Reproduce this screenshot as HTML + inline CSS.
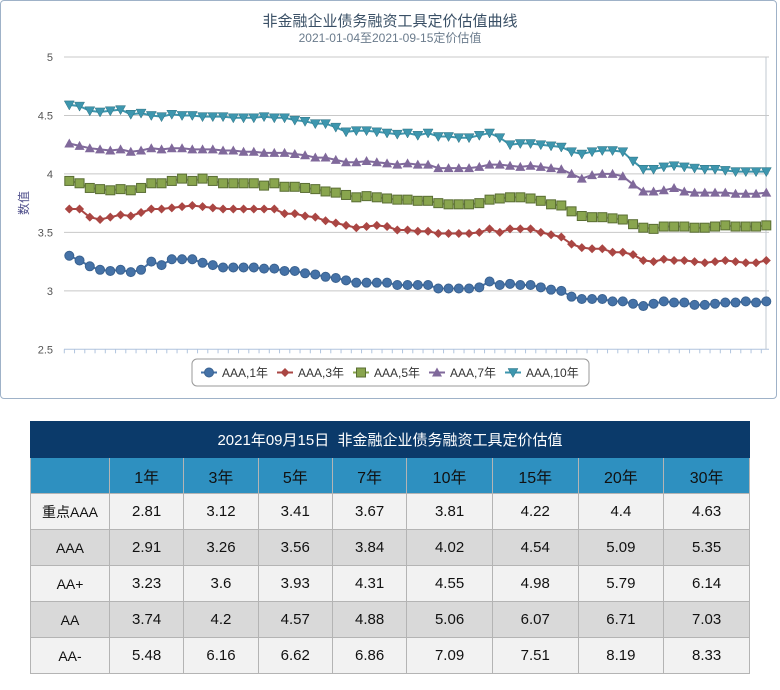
<!DOCTYPE html>
<html><head><meta charset="utf-8">
<style>
body{margin:0;width:780px;height:690px;background:#fff;font-family:"Liberation Sans","Noto Sans CJK SC",sans-serif;overflow:hidden;position:relative}
#chart{position:absolute;left:0;top:0;width:777px;height:399px;border:1px solid #9fb2c8;border-radius:4px;box-sizing:border-box}
table{position:absolute;left:30px;top:421px;border-collapse:collapse;width:720px;font-family:"Liberation Sans","Noto Sans CJK SC",sans-serif}
td,th{border:1px solid #b4b4b4;text-align:center;font-weight:normal;font-size:15px;color:#111;padding:0}
.title td{background:#0b3a6a;color:#fff;height:35px;font-size:15px;border-color:#0b3a6a}
.hdr td{background:#2e90c0;height:35px;font-size:16px;color:#111}
.r1 td{background:#f2f2f2;height:35px}.r2 td{background:#d9d9d9;height:35px}
td.lab{font-size:14px;width:78px}
</style></head><body>
<div id="chart">
<svg id="svg" width="777" height="399"></svg>
</div>
<table>
<tr class="title"><td colspan="9">2021年09月15日&nbsp; 非金融企业债务融资工具定价估值</td></tr>
<tr class="hdr"><td></td><td>1年</td><td>3年</td><td>5年</td><td>7年</td><td>10年</td><td>15年</td><td>20年</td><td>30年</td></tr>
<tr class="r1"><td class="lab">重点AAA</td><td>2.81</td><td>3.12</td><td>3.41</td><td>3.67</td><td>3.81</td><td>4.22</td><td>4.4</td><td>4.63</td></tr>
<tr class="r2"><td class="lab">AAA</td><td>2.91</td><td>3.26</td><td>3.56</td><td>3.84</td><td>4.02</td><td>4.54</td><td>5.09</td><td>5.35</td></tr>
<tr class="r1"><td class="lab">AA+</td><td>3.23</td><td>3.6</td><td>3.93</td><td>4.31</td><td>4.55</td><td>4.98</td><td>5.79</td><td>6.14</td></tr>
<tr class="r2"><td class="lab">AA</td><td>3.74</td><td>4.2</td><td>4.57</td><td>4.88</td><td>5.06</td><td>6.07</td><td>6.71</td><td>7.03</td></tr>
<tr class="r1"><td class="lab">AA-</td><td>5.48</td><td>6.16</td><td>6.62</td><td>6.86</td><td>7.09</td><td>7.51</td><td>8.19</td><td>8.33</td></tr>
</table>
<script>
const yTicks=["2.5","3","3.5","4","4.5","5"];
const seriesNames=["AAA,1年","AAA,3年","AAA,5年","AAA,7年","AAA,10年"];
const s1=[3.30,3.26,3.21,3.18,3.17,3.18,3.16,3.18,3.25,3.22,3.27,3.27,3.27,3.24,3.22,3.20,3.20,3.20,3.20,3.19,3.19,3.17,3.17,3.15,3.14,3.12,3.11,3.09,3.07,3.07,3.07,3.07,3.05,
3.05,3.05,3.05,3.02,3.02,3.02,3.02,3.03,3.08,3.05,3.06,3.05,3.05,3.03,3.01,3.00,2.95,2.93,2.93,2.93,2.91,2.91,2.89,2.87,2.89,2.91,2.90,2.90,2.88,2.88,2.89,2.90,2.90,2.91,2.90,2.91];
const s3=[3.70,3.70,3.63,3.61,3.63,3.65,3.64,3.67,3.70,3.70,3.71,3.72,3.73,3.72,3.71,3.70,3.70,3.70,3.70,3.70,3.70,3.66,3.66,3.64,3.63,3.60,3.58,3.56,3.54,3.55,3.56,3.55,3.52,
3.52,3.51,3.51,3.49,3.49,3.49,3.49,3.50,3.53,3.50,3.53,3.53,3.53,3.50,3.48,3.46,3.40,3.37,3.36,3.36,3.33,3.33,3.31,3.26,3.25,3.27,3.26,3.26,3.25,3.24,3.25,3.26,3.25,3.24,3.24,3.26];
const s5=[3.94,3.92,3.88,3.87,3.86,3.87,3.86,3.88,3.92,3.92,3.94,3.96,3.94,3.96,3.94,3.92,3.92,3.92,3.92,3.90,3.92,3.89,3.89,3.88,3.87,3.85,3.84,3.82,3.80,3.81,3.80,3.79,3.78,
3.78,3.77,3.77,3.75,3.74,3.74,3.74,3.75,3.78,3.79,3.80,3.80,3.79,3.77,3.74,3.73,3.68,3.64,3.63,3.63,3.62,3.61,3.57,3.54,3.53,3.55,3.55,3.55,3.54,3.54,3.55,3.56,3.55,3.55,3.55,3.56];
const s7=[4.26,4.24,4.22,4.21,4.20,4.21,4.19,4.20,4.22,4.21,4.22,4.22,4.21,4.21,4.21,4.20,4.20,4.19,4.19,4.18,4.18,4.18,4.17,4.16,4.14,4.14,4.12,4.10,4.10,4.11,4.10,4.09,4.08,
4.09,4.08,4.08,4.05,4.05,4.05,4.05,4.06,4.08,4.08,4.07,4.06,4.07,4.06,4.05,4.04,4.00,3.96,3.99,4.00,4.00,3.98,3.91,3.85,3.85,3.86,3.88,3.85,3.84,3.84,3.84,3.84,3.83,3.83,3.83,3.84];
const s10=[4.59,4.58,4.54,4.53,4.54,4.55,4.51,4.52,4.50,4.49,4.51,4.50,4.50,4.49,4.49,4.49,4.48,4.48,4.48,4.49,4.48,4.48,4.46,4.45,4.43,4.43,4.40,4.36,4.37,4.37,4.36,4.35,4.34,
4.35,4.33,4.35,4.32,4.32,4.31,4.31,4.33,4.35,4.31,4.25,4.26,4.26,4.25,4.24,4.23,4.19,4.17,4.19,4.20,4.20,4.19,4.11,4.04,4.04,4.06,4.07,4.06,4.05,4.04,4.04,4.03,4.02,4.02,4.02,4.02];

const NS="http://www.w3.org/2000/svg";
const svg=document.getElementById('svg');
function mk(t,a,p){const e=document.createElementNS(NS,t);for(const k in a)e.setAttribute(k,a[k]);(p||svg).appendChild(e);return e;}
const X0=63,X1=768,Y0=348.3,YMIN=2.5,YMAX=5;
const n=s1.length;
function x(i){return 68.3+i*(765.3-68.3)/(n-1);}
function y(v){return Y0-(v-YMIN)/(YMAX-YMIN)*(Y0-56);}
// title
let t=mk('text',{x:389,y:25,'text-anchor':'middle','font-size':15,fill:'#3a5066'});t.textContent='非金融企业债务融资工具定价估值曲线';


t=mk('text',{x:389,y:41,'text-anchor':'middle','font-size':12,fill:'#6a7b8c'});t.textContent='2021-01-04至2021-09-15定价估值';


t=mk('text',{x:27,y:202,'text-anchor':'middle','font-size':12,fill:'#4d4d8a',transform:'rotate(-90 27 202)'});t.textContent='数值';


yTicks.forEach(s=>{const v=parseFloat(s);const yy=y(v);
 if(v>YMIN){const g=mk('line',{x1:X0,x2:X1,y1:yy,y2:yy,stroke:'#c8c8c8','stroke-width':1});
 
 }
 const l=mk('text',{x:52,y:yy+4,'text-anchor':'end','font-size':11,fill:'#555'});l.textContent=s;
 
 });
let ax=mk('line',{x1:X0,x2:X1,y1:Y0,y2:Y0,stroke:'#b0c4de'});


ax=mk('line',{x1:765,x2:765,y1:56,y2:Y0,stroke:'#c0c8d0'});


for(let i=0;i<n;i++){const tk=mk('line',{x1:x(i)-5,x2:x(i)-5,y1:Y0,y2:Y0+4,stroke:'#b0c4de'});
 
 }
const colors=['#4572a7','#aa4643','#89a54e','#80699b','#3d96ae'];
const data=[s1,s3,s5,s7,s10];
function marker(k,cx,cy,g){
 if(k===0)return mk('circle',{cx,cy,r:4.5,fill:colors[0],stroke:'#3a6290','stroke-width':1},g);
 if(k===1)return mk('path',{d:`M${cx},${cy-4.5}L${cx+4.5},${cy}L${cx},${cy+4.5}L${cx-4.5},${cy}Z`,fill:colors[1]},g);
 if(k===2)return mk('rect',{x:cx-4.5,y:cy-4.5,width:9,height:9,fill:colors[2],stroke:'#5a6e34','stroke-width':1},g);
 if(k===3)return mk('path',{d:`M${cx},${cy-5}L${cx+5},${cy+4}L${cx-5},${cy+4}Z`,fill:colors[3]},g);
 return mk('path',{d:`M${cx-5},${cy-4}L${cx+5},${cy-4}L${cx},${cy+5}Z`,fill:colors[4],stroke:'#2d7080','stroke-width':0.5},g);
}
data.forEach((arr,k)=>{
 const g=mk('g',{});
 
 
 const d=arr.map((v,i)=>(i?'L':'M')+x(i).toFixed(1)+','+y(v).toFixed(1)).join('');
 mk('path',{d,fill:'none',stroke:colors[k],'stroke-width':2},g);
 arr.forEach((v,i)=>{const m=marker(k,x(i),y(v),g);
  
  });
});
// legend
const lg=mk('g',{});


mk('rect',{x:191,y:358,width:397,height:27,rx:5,fill:'#fff',stroke:'#999'},lg);
const lx=[200,276,352,428,504];
seriesNames.forEach((s,k)=>{
 const e=mk('g',{},lg);
 
 
 mk('line',{x1:lx[k],x2:lx[k]+16,y1:371.5,y2:371.5,stroke:colors[k],'stroke-width':2},e);
 marker(k,lx[k]+8,371.5,e);
 const tt=mk('text',{x:lx[k]+21,y:376,'font-size':12,fill:'#333'},e);tt.textContent=s;
});
</script>
</body></html>
